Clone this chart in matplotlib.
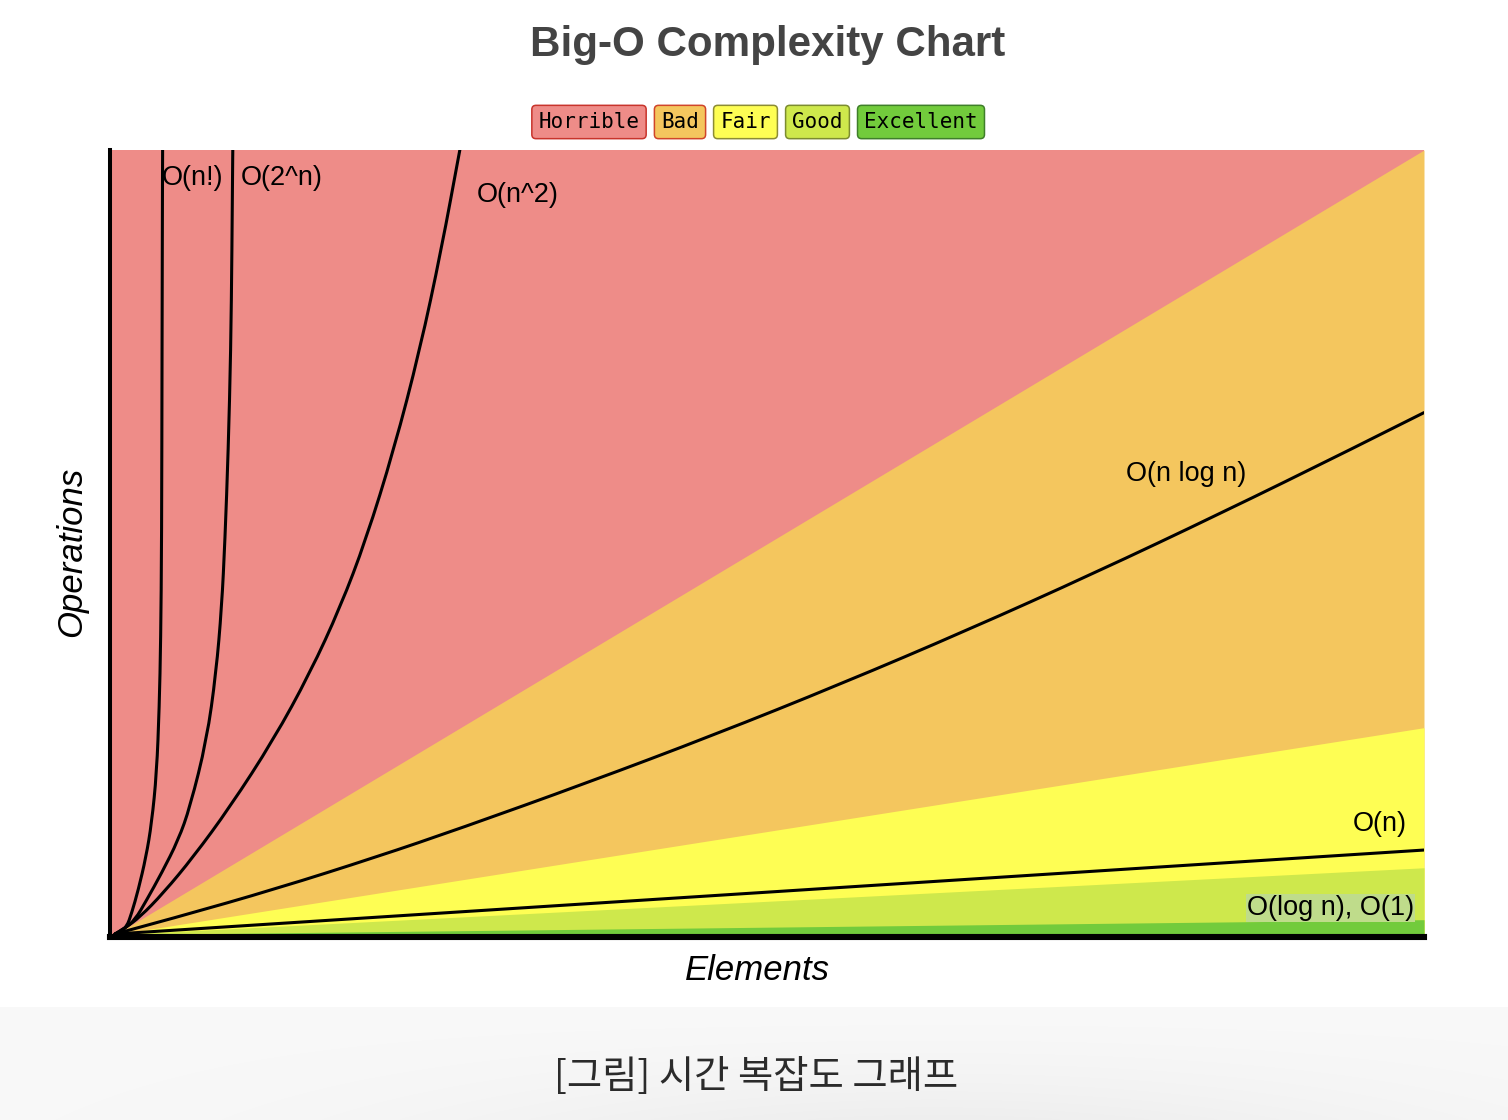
import numpy as np
import matplotlib
matplotlib.use("Agg")
import matplotlib.pyplot as plt
from matplotlib.path import Path
from matplotlib.patches import PathPatch

# ---- data (elements 0..100, operations 0..100) ----
band_names = ["Horrible", "Bad", "Fair", "Good", "Excellent"]
band_fill = ["#ee8c88", "#f4c65e", "#fefe54", "#cee84c", "#72cb3c"]
band_edge = ["#c8342c", "#d0452a", "#8c8c34", "#7c8c30", "#3f7f2a"]
# operations reached by the upper edge of Bad, Fair, Good, Excellent at elements = 100
band_top = [100.0, 26.6, 8.8, 2.2]

fact_x = [0.38, 0.76, 1.27, 1.65, 2.15, 2.74, 3.17, 3.55, 3.75, 3.86, 3.93, 3.96, 4.00, 4.01]
fact_y = [0.38, 0.64, 1.27, 3.05, 5.97, 10.17, 14.49, 20.84, 29.22, 37.74, 50.44, 74.59, 100.0, 102.0]

exp_x = [0.38, 1.07, 1.90, 2.79, 3.93, 5.20, 6.09, 7.36, 8.07, 8.50, 8.75, 9.00, 9.19, 9.28, 9.34, 9.36]
exp_y = [0.38, 1.02, 2.16, 4.70, 8.13, 12.33, 16.52, 25.03, 33.55, 41.93, 50.44, 61.88, 74.59, 87.29, 100.0, 102.0]

sq_x = [0.38, 1.14, 2.28, 4.06, 6.34, 9.13, 12.43, 15.22, 17.53, 19.47, 21.60, 23.58, 25.21, 26.62, 26.77]
sq_y = [0.38, 1.14, 2.54, 5.59, 10.17, 16.52, 25.03, 33.55, 41.93, 50.44, 61.88, 74.59, 87.29, 100.0, 101.3]

nlogn_x = [0.38, 5.08, 12.69, 20.30, 26.64, 36.29, 45.94, 55.59, 65.24, 74.89, 84.55, 94.20, 100.0]
nlogn_y = [0.38, 2.50, 6.15, 10.18, 13.79, 19.58, 25.66, 32.13, 38.98, 46.22, 53.85, 61.76, 66.63]

lin_x = [0.38, 100.0]
lin_y = [0.38, 11.05]

curve_labels = ["O(n!)", "O(2^n)", "O(n^2)", "O(n log n)", "O(n)", "O(log n), O(1)"]


def smooth_path(xs, ys):
    """Quadratic B-spline style path through the sampled points."""
    pts = np.column_stack([xs, ys])
    n = len(pts)
    if n < 3:
        return Path(pts)
    verts = [pts[0]]
    codes = [Path.MOVETO]
    for i in range(1, n - 2):
        verts += [pts[i], (pts[i] + pts[i + 1]) / 2]
        codes += [Path.CURVE3, Path.CURVE3]
    verts += [pts[n - 2], pts[n - 1]]
    codes += [Path.CURVE3, Path.CURVE3]
    return Path(verts, codes)


W, H = 1508, 1120
fig = plt.figure(figsize=(W / 100, H / 100), dpi=100)
fig.patch.set_facecolor("white")

# soft grey footer strip behind the caption
foot = fig.add_axes([0, 0, 1, (H - 1007) / H])
gy = np.linspace(0, 1, 60)[:, None]
gx = np.linspace(0, 1, 200)[None, :]
shade = 0.975 - 0.04 * gy ** 1.5 * np.exp(-((gx - 0.62) / 0.35) ** 2)
foot.imshow(np.dstack([shade] * 3), aspect="auto", extent=[0, 1, 0, 1],
            interpolation="bilinear")
foot.set_axis_off()

ax = fig.add_axes([110 / W, (H - 937) / H, 1314 / W, 787 / H])
ax.set_xlim(0, 100)
ax.set_ylim(0, 100)
ax.set_facecolor(band_fill[0])

# complexity bands fanning out from the origin, painted top to bottom
x0, y0 = 0.4, 0.3
xs = np.array([x0, 100.0])
for fill, top in zip(band_fill[1:], band_top):
    upper = y0 + (top - y0) * (xs - x0) / (100 - x0)
    ax.fill_between(xs, 0, upper, color=fill, lw=0, zorder=1)

for cx, cy in [(fact_x, fact_y), (exp_x, exp_y), (sq_x, sq_y),
               (nlogn_x, nlogn_y), (lin_x, lin_y)]:
    ax.add_patch(PathPatch(smooth_path(cx, cy), fill=False, ec="black",
                           lw=2.2, capstyle="round", joinstyle="round", zorder=3))

lab_font = dict(family=["Liberation Sans", "DejaVu Sans"], fontsize=19.5, color="black", zorder=4)
ax.text(3.96, 96.5, curve_labels[0], ha="left", va="center", **lab_font)
ax.text(9.97, 96.5, curve_labels[1], ha="left", va="center", **lab_font)
ax.text(27.93, 94.3, curve_labels[2], ha="left", va="center", **lab_font)
ax.text(77.32, 58.8, curve_labels[3], ha="left", va="center", **lab_font)
ax.text(98.7, 14.3, curve_labels[4], ha="right", va="center", **lab_font)
ax.text(99.24, 3.7, curve_labels[5], ha="right", va="center",
        bbox=dict(boxstyle="square,pad=0.05", fc="#bfdc8b", ec="none"), **lab_font)

for s in ["top", "right"]:
    ax.spines[s].set_visible(False)
ax.spines["left"].set_linewidth(2.9)
ax.spines["bottom"].set_linewidth(4.4)
ax.spines["left"].set_zorder(5)
ax.spines["bottom"].set_zorder(5)
ax.set_xticks([])
ax.set_yticks([])

fig.text(768 / W, 1 - 45 / H, "Big-O Complexity Chart", ha="center", va="center",
         fontsize=30.3, fontweight="bold", color="#444444",
         family=["Liberation Sans", "DejaVu Sans"])

# legend chips
chip_cx = [589, 680, 745.5, 817.5, 921]
for name, cx, fc, ec in zip(band_names, chip_cx, band_fill, band_edge):
    fig.text(cx / W, 1 - 122 / H, name, ha="center", va="center",
             fontsize=15, family="DejaVu Sans Mono", color="black",
             bbox=dict(boxstyle="round,pad=0.32,rounding_size=0.2", fc=fc, ec=ec, lw=1.1))

fig.text(72 / W, 1 - 552 / H, "Operations", rotation=90, ha="center", va="center",
         fontsize=25, style="italic", family=["Liberation Sans", "DejaVu Sans"])
fig.text(757 / W, 1 - 970 / H, "Elements", ha="center", va="center",
         fontsize=25, style="italic", family=["Liberation Sans", "DejaVu Sans"])

fig.text(756 / W, 1 - 1077 / H, "[그림] 시간 복잡도 그래프", ha="center", va="center",
         fontsize=27.6, color="#2b2b2b", family=["Noto Sans CJK KR", "DejaVu Sans"])

fig.savefig("out.png", dpi=100)
